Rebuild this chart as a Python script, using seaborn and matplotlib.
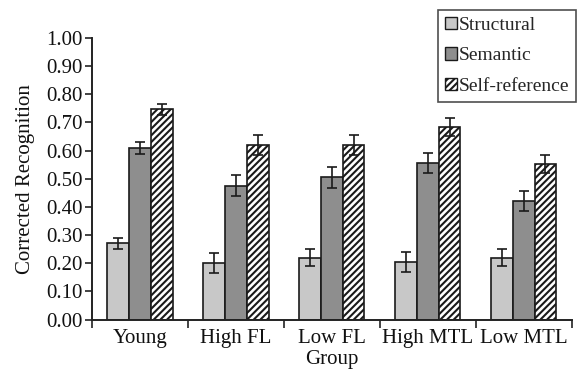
import matplotlib
matplotlib.use("Agg")
import matplotlib.pyplot as plt
from matplotlib.ticker import FixedLocator, MultipleLocator, FormatStrFormatter
import seaborn as sns
import pandas as pd
import numpy as np

groups = ["Young", "High FL", "Low FL", "High MTL", "Low MTL"]
conditions = ["Structural", "Semantic", "Self-reference"]
structural = [0.27, 0.20, 0.22, 0.205, 0.22]
semantic = [0.61, 0.475, 0.505, 0.556, 0.421]
selfref = [0.746, 0.620, 0.620, 0.684, 0.552]
err_structural = [0.021, 0.035, 0.030, 0.035, 0.030]
err_semantic = [0.022, 0.037, 0.037, 0.035, 0.037]
err_selfref = [0.018, 0.034, 0.035, 0.032, 0.033]

rows = []
for cond, vals, errs in zip(conditions, [structural, semantic, selfref],
                            [err_structural, err_semantic, err_selfref]):
    for g, v, e in zip(groups, vals, errs):
        rows.append({"Group": g, "Condition": cond, "Value": v, "Err": e})
df = pd.DataFrame(rows)

sns.set_style("ticks")
plt.rcParams["font.family"] = ["Liberation Serif", "DejaVu Serif"]
plt.rcParams["hatch.color"] = "#5e5e5e"
plt.rcParams["hatch.linewidth"] = 1.5

fig = plt.figure(figsize=(5.86, 3.71), dpi=100)
ax = fig.add_axes([0.157, 0.1388, 0.9756 - 0.157, 0.8976 - 0.1388])

palette = {"Structural": "#c8c8c8", "Semantic": "#8e8e8e", "Self-reference": "#ffffff"}
sns.barplot(data=df, x="Group", y="Value", hue="Condition", order=groups,
            hue_order=conditions, palette=palette, errorbar=None, width=0.68,
            edgecolor="#1a1a1a", linewidth=1.2, saturation=1, ax=ax, legend=True)

for cont, cond in zip(ax.containers, conditions):
    sub = df[df["Condition"] == cond].set_index("Group").loc[groups]
    xs = [p.get_x() + p.get_width() / 2 for p in cont.patches]
    if cond == "Self-reference":
        for p in cont.patches:
            p.set_hatch("/////")
    ax.errorbar(xs, sub["Value"].values, yerr=sub["Err"].values, fmt="none",
                ecolor="#1a1a1a", elinewidth=1.2, capsize=3.8, capthick=1.2, zorder=5)

ax.set_ylim(0, 1.0)
ax.set_xlim(-0.5, 4.5)
ax.yaxis.set_major_locator(MultipleLocator(0.1))
ax.yaxis.set_major_formatter(FormatStrFormatter("%.2f"))
ax.xaxis.set_minor_locator(FixedLocator(np.arange(-0.5, 5.0, 1.0)))
ax.tick_params(axis="x", which="major", length=0, labelsize=15, pad=7, labelcolor="#111111")
ax.tick_params(axis="x", which="minor", length=6, width=1.2, color="#222222")
ax.tick_params(axis="y", length=5, width=1.2, labelsize=15, pad=2, color="#222222", labelcolor="#111111")
for s in ["left", "bottom"]:
    ax.spines[s].set_linewidth(1.4)
    ax.spines[s].set_color("#222222")
sns.despine(ax=ax)

ax.set_xlabel("Group", fontsize=15, labelpad=1, color="#111111")
ax.set_ylabel("Corrected Recognition", fontsize=15, labelpad=8, color="#111111")

handles, labels = ax.get_legend_handles_labels()
ax.get_legend().remove()
leg = fig.legend(handles, labels, loc="upper right",
                 bbox_to_anchor=(576 / 586, 1 - 10 / 371), borderaxespad=0,
                 fontsize=14, frameon=True, fancybox=False, handlelength=0.6,
                 handleheight=0.6, handletextpad=0.1, labelspacing=0.7,
                 borderpad=0.35)
leg.get_frame().set_edgecolor("#222222")
leg.get_frame().set_linewidth(1.2)
for h, cond in zip(leg.legend_handles, conditions):
    h.set_linewidth(1.0)
    if cond == "Self-reference":
        h.set_hatch("/////")

fig.savefig("out.png", dpi=100)
